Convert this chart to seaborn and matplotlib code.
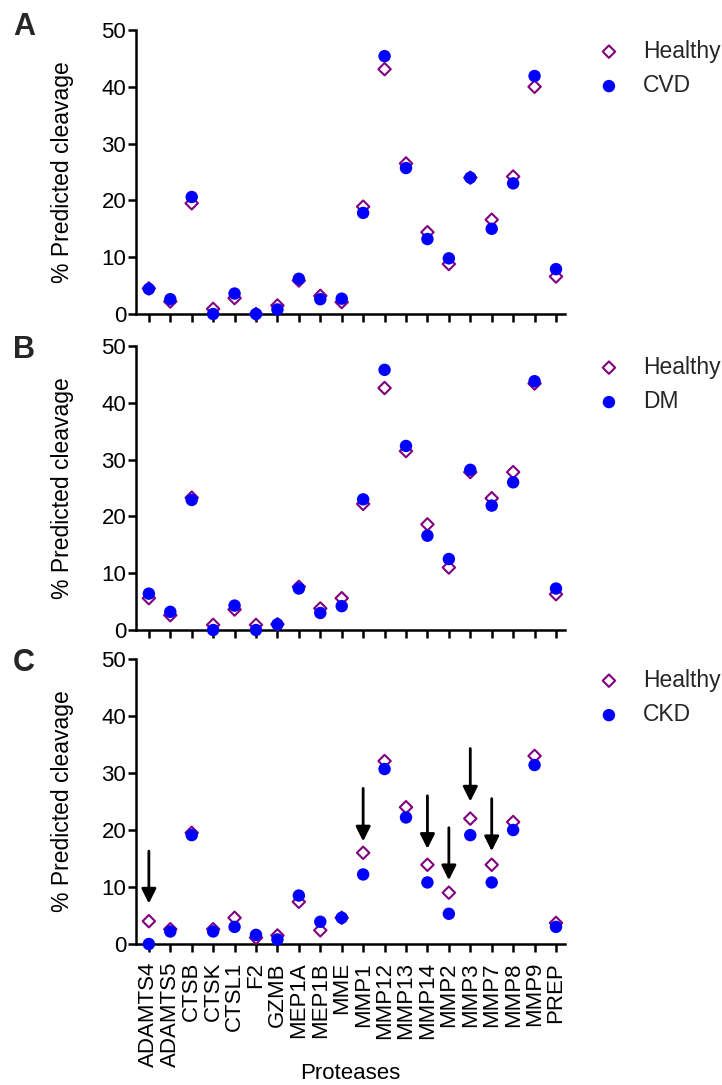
import pandas as pd
import seaborn as sns
import matplotlib.pyplot as plt

# Proteases on the x axis
proteases = ['ADAMTS4', 'ADAMTS5', 'CTSB', 'CTSK', 'CTSL1', 'F2', 'GZMB', 'MEP1A', 'MEP1B', 'MME',
             'MMP1', 'MMP12', 'MMP13', 'MMP14', 'MMP2', 'MMP3', 'MMP7', 'MMP8', 'MMP9', 'PREP']

# % predicted cleavage, panel A
healthy_a = [4.5, 2.2, 19.5, 0.9, 2.8, 0.0, 1.5, 5.9, 3.2, 2.1,
             18.9, 43.1, 26.5, 14.4, 8.8, 24.0, 16.6, 24.2, 40.0, 6.6]
cvd = [4.4, 2.6, 20.6, 0.0, 3.6, 0.0, 0.8, 6.2, 2.6, 2.7,
       17.8, 45.4, 25.7, 13.2, 9.8, 24.0, 15.0, 23.0, 41.9, 7.9]

# panel B
healthy_b = [5.6, 2.6, 23.3, 0.9, 3.6, 0.9, 1.0, 7.6, 3.8, 5.6,
             22.2, 42.6, 31.5, 18.6, 11.0, 27.8, 23.2, 27.8, 43.4, 6.3]
dm = [6.4, 3.2, 22.9, 0.0, 4.3, 0.0, 1.0, 7.3, 3.0, 4.2,
      23.0, 45.8, 32.4, 16.6, 12.5, 28.2, 21.9, 26.0, 43.8, 7.3]

# panel C
healthy_c = [4.0, 2.6, 19.5, 2.6, 4.6, 1.1, 1.5, 7.4, 2.4, 4.6,
             16.0, 32.1, 24.0, 13.9, 9.0, 22.0, 13.9, 21.4, 33.0, 3.7]
ckd = [0.0, 2.2, 19.1, 2.2, 3.0, 1.6, 0.8, 8.5, 3.9, 4.6,
       12.2, 30.7, 22.2, 10.8, 5.3, 19.1, 10.8, 20.0, 31.4, 3.0]

# arrows in panel C
arrow_targets = ['ADAMTS4', 'MMP1', 'MMP14', 'MMP2', 'MMP3', 'MMP7']
arrow_top = [16.3, 27.3, 26.0, 20.4, 34.3, 25.5]
arrow_tip = [7.1, 18.0, 16.7, 11.2, 25.0, 16.3]

panels = [
    ('A', 'CVD', healthy_a, cvd),
    ('B', 'DM', healthy_b, dm),
    ('C', 'CKD', healthy_c, ckd),
]

sns.set_style('ticks')
plt.rcParams['font.family'] = ['Liberation Sans', 'DejaVu Sans']

W, H = 722, 1085
fig = plt.figure(figsize=(W / 100, H / 100), dpi=100)

# pixel boxes (top, bottom) of each axes and panel letter top
ax_tops = [30, 346, 659]
ax_bottoms = [314, 630, 944]
letter_tops = [12, 335, 648]
ax_left, ax_right = 136, 565

for i, (letter, disease, healthy, sick) in enumerate(panels):
    top, bottom = ax_tops[i], ax_bottoms[i]
    ax = fig.add_axes([ax_left / W, 1 - bottom / H, (ax_right - ax_left) / W, (bottom - top) / H])

    df = pd.DataFrame({'Protease': proteases, 'Healthy': healthy, disease: sick})
    sns.scatterplot(data=df, x='Protease', y='Healthy', marker='D', s=40,
                    facecolor='none', edgecolor='#800080', linewidth=1.5,
                    label='Healthy', clip_on=False, zorder=3, ax=ax)
    sns.scatterplot(data=df, x='Protease', y=disease, marker='o', s=80,
                    color='#0000ff', edgecolor='none', linewidth=0,
                    label=disease, clip_on=False, zorder=4, ax=ax)

    ax.set_xlim(-0.6, 19.42)
    ax.set_ylim(0, 50)
    ax.set_yticks([0, 10, 20, 30, 40, 50])
    sns.despine(ax=ax)
    for side in ['left', 'bottom']:
        ax.spines[side].set_linewidth(1.8)
        ax.spines[side].set_color('black')
    ax.tick_params(width=1.8, length=6, color='black', labelsize=16, labelcolor='black')
    ax.tick_params(axis='y', pad=1)
    ax.tick_params(axis='x', pad=7)

    ax.set_ylabel('% Predicted cleavage', fontsize=16.5, color='black')
    ax.yaxis.set_label_coords(-0.145, 0.5)

    if letter == 'C':
        ax.set_xlabel('Proteases', fontsize=16, color='black', va='top')
        ax.xaxis.set_label_coords(0.5, -0.418)
        plt.setp(ax.get_xticklabels(), rotation=90)
        for name, y0, y1 in zip(arrow_targets, arrow_top, arrow_tip):
            ax.annotate('', xy=(name, y1), xytext=(name, y0),
                        arrowprops=dict(arrowstyle='-|>', color='black', lw=2,
                                        mutation_scale=22, shrinkA=0, shrinkB=0))
    else:
        ax.set_xlabel('')
        ax.tick_params(axis='x', labelbottom=False)

    handles, labels = ax.get_legend_handles_labels()
    ax.legend(handles, labels, loc='upper left', bbox_to_anchor=(1.049, 0.966),
              frameon=False, fontsize=16.5, borderaxespad=0, borderpad=0,
              handletextpad=0.5, labelspacing=0.5, handlelength=2.0)

    fig.text(13 / W, 1 - letter_tops[i] / H, letter, fontsize=22, fontweight='bold',
             va='top', ha='left')

fig.savefig('out.png', dpi=100)
